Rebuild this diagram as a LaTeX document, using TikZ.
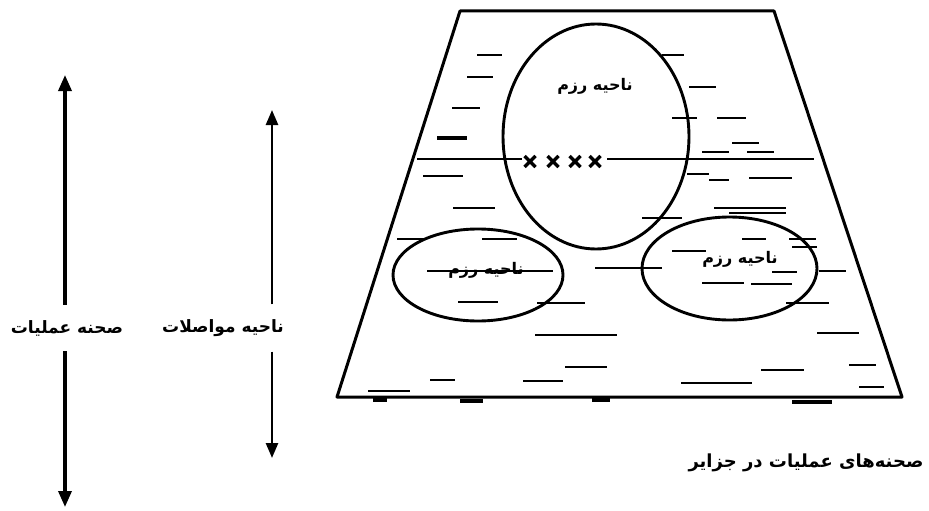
\documentclass[tikz,border=0pt]{standalone}
\usepackage{fontspec}
\usepackage{tikz}
\usetikzlibrary{arrows.meta, positioning}
\TeXXeTstate=1
\newfontfamily\arabicfont[Script=Arabic]{DejaVu Sans}

\begin{document}
\begin{tikzpicture}[x=1pt, y=-1pt,
  edge/.style={line width=3pt, line join=round},
  zone/.style={line width=2.9pt},
  wave/.style={line width=2.5pt},
  tag/.style={font=\arabicfont\bfseries\fontsize{17}{19}\selectfont, inner xsep=1pt, inner ysep=15pt},
  zonetag/.style={font=\arabicfont\bfseries\fontsize{16}{18}\selectfont, inner sep=1pt},
  bigspan/.style={line width=3.4pt, -{Triangle[length=16pt, width=13pt]}},
  smallspan/.style={line width=2.5pt, -{Triangle[length=15pt, width=12pt]}}]
\useasboundingbox (0,0) rectangle (929,511);
% left scale bars
\node[tag] (theatre) at (67,328) {\beginR صحنه عملیات\endR};
\node[tag] (commzone) at (223,328) {\beginR ناحیه مواصلات\endR};
\coordinate (theatreTop) at (65,75);
\coordinate (theatreBot) at (65,507);
\coordinate (commTop) at (272,110);
\coordinate (commBot) at (272,458);
\draw[bigspan] (theatre.north -| theatreTop) -- (theatreTop);
\draw[bigspan] (theatre.south -| theatreBot) -- (theatreBot);
\draw[smallspan] (commzone.north -| commTop) -- (commTop);
\draw[smallspan] (commzone.south -| commBot) -- (commBot);
% the island plan
\draw[edge] (460,11) -- (774,11) -- (902,397) -- (337,397) -- cycle;
\draw[zone] (417,159) -- (522,159);
\draw[zone] (607,159) -- (814,159);
\draw[zone] (596,136.5) ellipse [x radius=93pt, y radius=112.5pt];
\draw[zone] (478,275) ellipse [x radius=85pt, y radius=46pt];
\draw[zone] (729.5,268.5) ellipse [x radius=87.5pt, y radius=51.5pt];
\foreach \cx in {530,553,575,595}
  \draw[line width=3.2pt] (\cx-5.5,156) -- (\cx+5.5,167) (\cx-5.5,167) -- (\cx+5.5,156);
% water marks
\draw[wave] (477,55) -- (502,55) (467,77) -- (493,77) (452,108) -- (480,108)
  (423,176) -- (463,176) (453,208) -- (495,208) (397,239) -- (423,239)
  (482,239) -- (517,239) (427,271) -- (553,271) (595,268) -- (662,268)
  (458,302) -- (498,302) (537,303) -- (585,303) (535,335) -- (617,335)
  (565,367) -- (607,367) (430,380) -- (455,380) (523,381) -- (563,381)
  (368,391) -- (410,391);
\draw[line width=4.2pt] (437,138) -- (467,138);
\draw[wave] (662,55) -- (684,55) (689,87) -- (716,87) (672,118) -- (697,118)
  (717,118) -- (746,118) (732,143) -- (759,143) (702,152) -- (729,152)
  (747,152) -- (774,152) (687,174) -- (709,174) (709,180) -- (729,180)
  (749,178) -- (792,178) (714,208) -- (786,208) (729,213) -- (786,213)
  (642,218) -- (682,218) (742,239) -- (766,239) (789,239) -- (816,239)
  (672,251) -- (706,251) (792,247) -- (817,247) (772,272) -- (797,272)
  (819,271) -- (846,271) (702,283) -- (744,283) (751,284) -- (792,284)
  (786,303) -- (829,303) (817,333) -- (859,333) (849,365) -- (876,365)
  (761,370) -- (804,370) (681,383) -- (752,383) (859,387) -- (884,387);
\draw[line width=3.2pt] (373,400) -- (387,400) (460,401) -- (483,401)
  (592,400) -- (610,400) (792,402) -- (832,402);
% zone labels
\node[zonetag] (mainzone) at (595,86) {\beginR ناحیه رزم\endR};
\node[zonetag] (westzone) at (486,270) {\beginR ناحیه رزم\endR};
\node[zonetag] (eastzone) at (740,259) {\beginR ناحیه رزم\endR};
\node[font=\arabicfont\bfseries\fontsize{18}{20}\selectfont, anchor=east] (caption) at (927,463)
  {\beginR صحنه‌های عملیات در جزایر\endR};
\end{tikzpicture}
\end{document}
